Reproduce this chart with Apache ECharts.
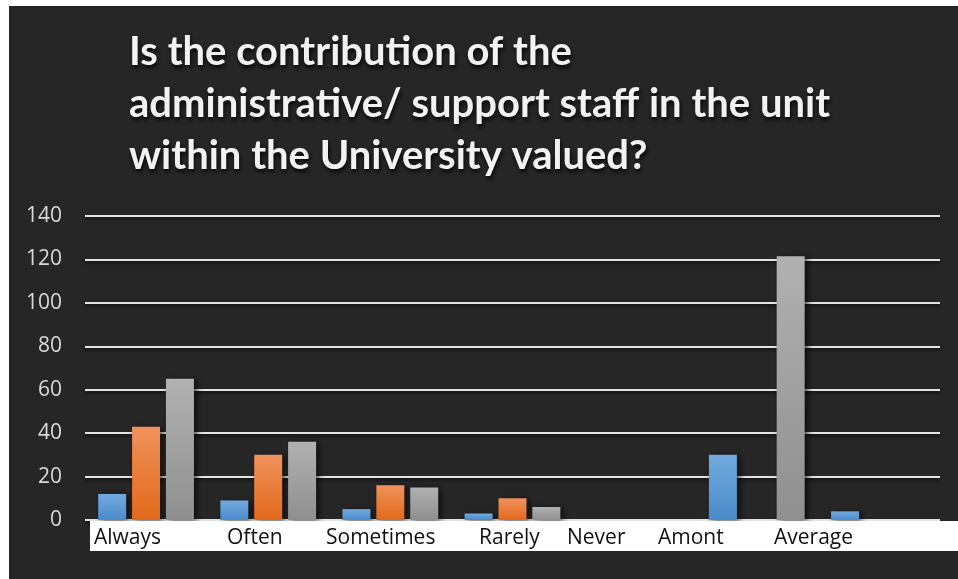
<!DOCTYPE html>
<html>
<head>
<meta charset="utf-8">
<script src="https://cdn.jsdelivr.net/npm/echarts@6/dist/echarts.min.js"></script>
<style>
  html, body { margin: 0; padding: 0; background: #ffffff; }
  #chart { position: absolute; left: 9px; top: 6px; width: 949px; height: 573px; }
</style>
</head>
<body>
<div id="chart"></div>
<script>
// Survey answers, grouped by response category
const categories = ['Always', 'Often', 'Sometimes', 'Rarely', 'Never', 'Amont', 'Average'];
const seriesBlue   = [12, 9, 5, 3, null, 30, 4];
const seriesOrange = [43, 30, 16, 10, null, null, null];
const seriesGray   = [65, 36, 15, 6, null, 121.5, null];
const yTicks = [0, 20, 40, 60, 80, 100, 120, 140];

const titleText = 'Is the contribution of the\nadministrative/ support staff in the unit\nwithin the University valued?';

// left edges of the caption texts in the white label strip
const captionX = [85, 218, 317, 470, 558, 649, 765];

function grad(top, bottom) {
  return new echarts.graphic.LinearGradient(0, 0, 0, 1, [
    { offset: 0, color: top },
    { offset: 1, color: bottom }
  ]);
}

const barShadow = {
  shadowColor: 'rgba(0,0,0,0.65)',
  shadowBlur: 6,
  shadowOffsetX: 3,
  shadowOffsetY: 1
};

const chart = echarts.init(document.getElementById('chart'), null, { renderer: 'canvas' });

const captionGraphics = categories.map((c, i) => ({
  type: 'text',
  left: captionX[i],
  top: 522,
  z: 101,
  style: {
    text: c,
    fill: '#111111',
    font: '21px "Open Sans", sans-serif'
  }
}));

chart.setOption({
  backgroundColor: '#262626',
  animation: false,
  title: {
    text: titleText,
    left: 115,
    top: 15,
    textStyle: {
      color: '#f2f2f2',
      fontFamily: 'Lato, "Open Sans", sans-serif',
      fontWeight: 'bold',
      fontSize: 40,
      lineHeight: 52,
      textShadowColor: 'rgba(0,0,0,0.85)',
      textShadowBlur: 4,
      textShadowOffsetX: 1,
      textShadowOffsetY: 3
    }
  },
  grid: { left: 76, right: 18, top: 210, bottom: 59 },
  xAxis: {
    type: 'category',
    data: categories,
    axisLine: { show: false },
    axisTick: { show: false },
    axisLabel: { show: false }
  },
  yAxis: {
    type: 'value',
    min: yTicks[0],
    max: yTicks[yTicks.length - 1],
    interval: yTicks[1] - yTicks[0],
    axisLine: { show: false },
    axisTick: { show: false },
    axisLabel: {
      color: '#d9d9d9',
      fontFamily: '"Open Sans", sans-serif',
      fontSize: 21,
      margin: 23
    },
    splitLine: {
      lineStyle: {
        color: '#e3e3e3',
        width: 2,
        shadowColor: 'rgba(0,0,0,0.6)',
        shadowBlur: 3,
        shadowOffsetY: 2
      }
    }
  },
  series: [
    {
      type: 'bar',
      data: seriesBlue,
      barWidth: 28,
      barGap: '21%',
      itemStyle: Object.assign({ color: grad('#72aade', '#4a8bcb') }, barShadow)
    },
    {
      type: 'bar',
      data: seriesOrange,
      barWidth: 28,
      barGap: '21%',
      itemStyle: Object.assign({ color: grad('#f0925c', '#e2691b') }, barShadow)
    },
    {
      type: 'bar',
      data: seriesGray,
      barWidth: 28,
      barGap: '21%',
      itemStyle: Object.assign({ color: grad('#b1b1b1', '#8f8f8f') }, barShadow)
    }
  ],
  graphic: [
    {
      type: 'rect',
      left: 81,
      top: 515,
      z: 100,
      shape: { width: 868, height: 30 },
      style: { fill: '#ffffff' }
    }
  ].concat(captionGraphics)
});
</script>
</body>
</html>
